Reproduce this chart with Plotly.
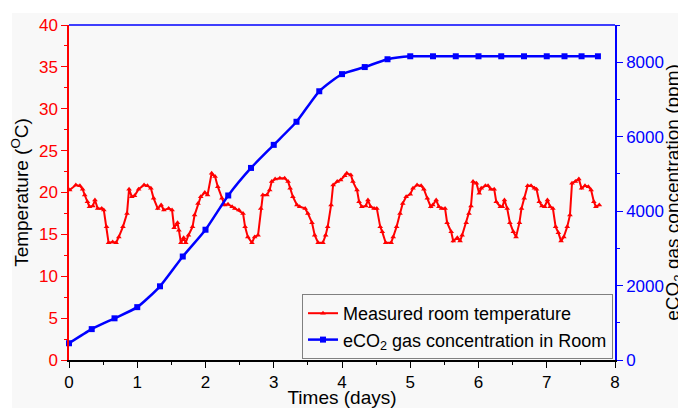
import plotly.graph_objects as go

# ---- data ----
temp_days = [0.01, 0.10, 0.16, 0.20, 0.23, 0.27, 0.30, 0.35, 0.38, 0.42, 0.48, 0.51, 0.55, 0.58, 0.64, 0.69,
             0.73, 0.79, 0.85, 0.88, 0.92, 0.96, 1.02, 1.10, 1.15, 1.20, 1.24, 1.30, 1.35, 1.39, 1.46, 1.51,
             1.54, 1.59, 1.61, 1.64, 1.68, 1.71, 1.75, 1.81, 1.84, 1.89, 1.93, 1.99,
             2.03, 2.09, 2.14, 2.18, 2.24, 2.28, 2.33, 2.39, 2.43, 2.49, 2.55, 2.58, 2.62, 2.68, 2.72, 2.77,
             2.81, 2.84, 2.90, 2.94, 2.97, 3.02, 3.09, 3.16, 3.21, 3.24, 3.28, 3.34, 3.38, 3.46, 3.50, 3.56,
             3.60, 3.65, 3.72, 3.76, 3.79, 3.84, 3.87, 3.93, 3.98,
             4.04, 4.07, 4.13, 4.16, 4.22, 4.25, 4.29, 4.35, 4.38, 4.42, 4.47, 4.51, 4.56, 4.59, 4.64, 4.72,
             4.75, 4.80, 4.85, 4.89, 4.94, 5.00, 5.04, 5.10, 5.16, 5.20, 5.25, 5.30, 5.33, 5.38, 5.42, 5.46,
             5.51, 5.54, 5.60, 5.63, 5.69, 5.73, 5.76, 5.82, 5.86, 5.89, 5.92, 5.97,
             6.01, 6.04, 6.10, 6.14, 6.18, 6.23, 6.26, 6.32, 6.35, 6.38, 6.42, 6.46, 6.51, 6.55, 6.60, 6.63,
             6.67, 6.72, 6.77, 6.82, 6.85, 6.89, 6.93, 6.97, 7.01, 7.05, 7.09, 7.13, 7.17, 7.21, 7.25, 7.30,
             7.34, 7.37, 7.42, 7.47, 7.51, 7.56, 7.61, 7.65, 7.69, 7.72, 7.77]
temp_values = [20.3, 20.9, 20.8, 20.4, 19.7, 18.9, 18.3, 18.4, 19.1, 18.1, 18.1, 17.9, 15.9, 14.0, 14.1, 14.0,
               14.7, 15.9, 17.5, 20.4, 19.5, 19.6, 20.4, 20.9, 20.8, 20.5, 19.3, 18.1, 18.5, 17.9, 18.1, 17.9,
               15.8, 16.4, 15.5, 14.0, 14.6, 14.0, 14.9, 15.9, 17.3, 18.7, 19.5, 20.0,
               19.7, 22.3, 21.9, 20.7, 19.3, 18.5, 18.6, 18.3, 18.1, 17.9, 17.5, 15.9, 14.7, 14.0, 14.7, 14.9,
               18.1, 19.7, 19.7, 20.3, 21.3, 21.6, 21.7, 21.7, 21.3, 20.5, 19.5, 18.5, 18.3, 18.1, 17.5, 16.4,
               14.9, 14.0, 14.0, 14.9, 15.9, 18.5, 20.9, 21.3, 21.5,
               22.0, 22.3, 22.1, 21.3, 20.3, 18.9, 18.3, 18.4, 19.1, 18.3, 18.1, 18.1, 15.9, 15.3, 14.0, 14.0,
               14.7, 15.9, 17.5, 18.7, 19.5, 19.8, 20.5, 20.9, 20.8, 20.4, 19.3, 18.3, 18.5, 19.1, 18.3, 18.1,
               18.1, 16.4, 15.3, 14.2, 14.6, 14.2, 14.9, 16.4, 17.5, 18.4, 21.3, 21.1,
               19.9, 20.5, 20.8, 20.8, 20.4, 20.4, 18.9, 18.3, 18.3, 19.1, 18.1, 16.4, 15.3, 14.7, 16.4, 18.1,
               19.3, 20.8, 20.8, 20.5, 20.4, 18.9, 18.4, 18.3, 19.1, 18.3, 18.1, 15.9, 15.2, 14.2, 14.7, 15.9,
               17.3, 21.1, 21.3, 21.6, 20.5, 20.8, 20.7, 20.3, 18.9, 18.3, 18.5]

co2_days = [0, 0.333, 0.667, 1.0, 1.333, 1.667, 2.0, 2.333, 2.667, 3.0, 3.333, 3.667, 4.0, 4.333,
            4.667, 5.0, 5.333, 5.667, 6.0, 6.333, 6.667, 7.0, 7.26, 7.51, 7.75]
co2_values = [450, 830, 1120, 1420, 1980, 2780, 3500, 4420, 5160, 5780, 6400, 7220, 7680, 7870,
              8080, 8160, 8160, 8160, 8160, 8160, 8160, 8160, 8160, 8160, 8160]

x_ticks = [0, 1, 2, 3, 4, 5, 6, 7, 8]
temp_ticks = [0, 5, 10, 15, 20, 25, 30, 35, 40]
co2_ticks = [0, 2000, 4000, 6000, 8000]

RED = "#ff0000"
BLUE = "#0000ff"
FONT = "Liberation Sans, Arial, sans-serif"
BG = "#f8f8f8"

# the page body has an 8 px margin, so figure coordinates = screen - 8
OFF = 8
W, H = 686 - OFF, 408 - OFF
ML, MT = 69 - OFF, 25 - OFF
MR = W - (615 - OFF)
MB = H - (360 - OFF)
PW, PH = W - ML - MR, H - MT - MB

fig = go.Figure()
fig.add_trace(go.Scatter(
    x=temp_days, y=temp_values, mode="lines+markers",
    name="Measured room temperature",
    line=dict(color=RED, width=2),
    marker=dict(symbol="triangle-up", size=5, color=RED),
    yaxis="y",
))
fig.add_trace(go.Scatter(
    x=co2_days, y=co2_values, mode="lines+markers",
    name="eCO<sub>2</sub> gas concentration in Room",
    line=dict(color=BLUE, width=2.5, shape="spline", smoothing=0.6),
    marker=dict(symbol="square", size=6, color=BLUE),
    yaxis="y2", cliponaxis=False,
))

fig.update_layout(
    width=W, height=H,
    margin=dict(l=ML, r=MR, t=MT, b=MB, pad=0, autoexpand=False),
    paper_bgcolor="white", plot_bgcolor=BG,
    font=dict(family=FONT, size=17, color="black"),
    showlegend=True,
    legend=dict(
        x=(613 - 69) / PW, y=(360 - 359) / PH, xanchor="right", yanchor="bottom",
        bgcolor=BG, bordercolor="#808080", borderwidth=1,
        font=dict(size=18, color="black"), tracegroupgap=0,
        itemwidth=30,
    ),
    xaxis=dict(
        range=[0, 8], tickvals=x_ticks, ticks="outside", ticklen=6, tickwidth=1.2,
        tickcolor="black", showline=True, linecolor="black", linewidth=1.5,
        showgrid=False, zeroline=False, automargin=False,
        tickfont=dict(size=17, color="black"),
        minor=dict(dtick=0.5, ticks="outside", ticklen=3, tickcolor="black", tickwidth=1.2),
        title=dict(text="Times (days)", font=dict(size=19, color="black"), standoff=4),
    ),
    yaxis=dict(
        range=[0, 40], tickvals=temp_ticks, ticks="outside", ticklen=6, tickwidth=1.2,
        tickcolor=RED, showline=True, linecolor=RED, linewidth=1.5,
        showgrid=False, zeroline=False, automargin=False,
        tickfont=dict(size=17, color=RED),
        minor=dict(dtick=2.5, ticks="outside", ticklen=3, tickcolor=RED, tickwidth=1.2),
        title=dict(text="Temperature (<sup>O</sup>C)", font=dict(size=19, color="black"), standoff=6),
    ),
    yaxis2=dict(
        range=[0, 9000], tickvals=co2_ticks, ticks="outside", ticklen=6, tickwidth=1.2,
        tickcolor=BLUE, showline=True, linecolor=BLUE, linewidth=1.5,
        overlaying="y", side="right", anchor="x",
        showgrid=False, zeroline=False, automargin=False,
        tickfont=dict(size=17, color=BLUE),
        minor=dict(dtick=1000, ticks="outside", ticklen=3, tickcolor=BLUE, tickwidth=1.2),
        title=dict(text="eCO<sub>2</sub> gas concentration (ppm)", font=dict(size=19, color="black"), standoff=10),
    ),
    shapes=[
        dict(type="rect", xref="paper", yref="paper",
             x0=(12 - 69) / PW, x1=(W - ML + 5) / PW,
             y0=-(MB + 5) / PH, y1=1 + (25 - 13) / PH,
             fillcolor=BG, line=dict(width=0), layer="below"),
        dict(type="line", xref="paper", yref="paper", x0=0, x1=1, y0=1, y1=1,
             line=dict(color=BLUE, width=1.5)),
    ],
)

fig.write_html("out.html")
